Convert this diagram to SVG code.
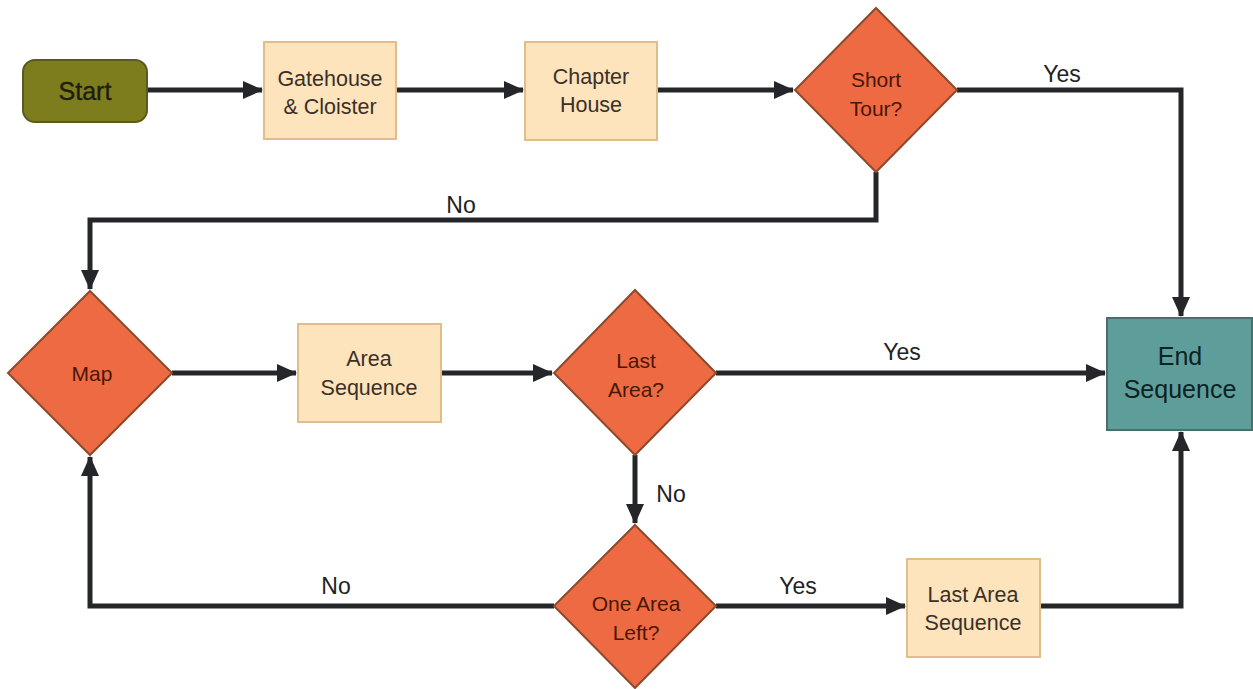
<svg xmlns="http://www.w3.org/2000/svg" width="1253" height="689" viewBox="0 0 1253 689">
<style>
.box{fill:#fde4bd;stroke:#e2bd8a;stroke-width:2}
.dia{fill:#ed6a42;stroke:#8c4a2c;stroke-width:2}
.t{font-family:"Liberation Sans",Arial,sans-serif;font-size:21.5px;text-anchor:middle;fill:#3a3028}
.td{font-family:"Liberation Sans",Arial,sans-serif;font-size:21px;text-anchor:middle;fill:#4a1608}
.lbl{font-family:"Liberation Sans",Arial,sans-serif;font-size:23px;text-anchor:middle;fill:#222}
.c{fill:none;stroke:#24262a;stroke-width:5}
</style>
<defs>
<marker id="ah" markerUnits="userSpaceOnUse" markerWidth="20" markerHeight="18" refX="19" refY="9" orient="auto">
<path d="M0,0 L20,9 L0,18 z" fill="#24262a"/>
</marker>
</defs>
<rect width="1253" height="689" fill="#ffffff"/>
<g id="connectors">
<path class="c" d="M147,90 H262" marker-end="url(#ah)"/>
<path class="c" d="M396,90 H523" marker-end="url(#ah)"/>
<path class="c" d="M657,90 H793" marker-end="url(#ah)"/>
<path class="c" d="M957,90 H1181 V316" marker-end="url(#ah)"/>
<path class="c" d="M876,172 V220 H90 V289" marker-end="url(#ah)"/>
<path class="c" d="M172,373 H296" marker-end="url(#ah)"/>
<path class="c" d="M441,373 H552" marker-end="url(#ah)"/>
<path class="c" d="M716,373 H1105" marker-end="url(#ah)"/>
<path class="c" d="M635,455 V523" marker-end="url(#ah)"/>
<path class="c" d="M554,606 H90 V457" marker-end="url(#ah)"/>
<path class="c" d="M716,606 H905" marker-end="url(#ah)"/>
<path class="c" d="M1040,606 H1181 V432" marker-end="url(#ah)"/>
<text class="lbl" x="1062" y="82">Yes</text>
<text class="lbl" x="461" y="213">No</text>
<text class="lbl" x="902" y="360">Yes</text>
<text class="lbl" x="671" y="502">No</text>
<text class="lbl" x="336" y="594">No</text>
<text class="lbl" x="798" y="594">Yes</text>
</g>
<g id="start">
<rect x="23" y="60" width="124" height="62" rx="12" fill="#7e7d1e" stroke="#5a5a20" stroke-width="2"/>
<text x="85" y="100" font-family="Liberation Sans,Arial,sans-serif" font-size="25" text-anchor="middle" fill="#1e1e10" stroke="#1e1e10" stroke-width="0.4">Start</text>
</g>
<g id="gatehouse">
<rect class="box" x="264" y="42" width="132" height="97"/>
<text class="t" x="330" y="86">Gatehouse</text>
<text class="t" x="330" y="114">&amp; Cloister</text>
</g>
<g id="chapter">
<rect class="box" x="525" y="42" width="132" height="98"/>
<text class="t" x="591" y="84">Chapter</text>
<text class="t" x="591" y="112">House</text>
</g>
<g id="short">
<polygon class="dia" points="876,8 957,90 876,172 795,90"/>
<text class="td" x="876" y="87">Short</text>
<text class="td" x="876" y="116">Tour?</text>
</g>
<g id="end">
<rect x="1107" y="318" width="145" height="112" fill="#5e9e9a" stroke="#4a6e6c" stroke-width="2"/>
<text x="1180" y="365" font-family="Liberation Sans,Arial,sans-serif" font-size="25" text-anchor="middle" fill="#0e2224">End</text>
<text x="1180" y="398" font-family="Liberation Sans,Arial,sans-serif" font-size="25" text-anchor="middle" fill="#0e2224">Sequence</text>
</g>
<g id="map">
<polygon class="dia" points="90,291 172,373 90,455 8,373"/>
<text class="td" x="92" y="381">Map</text>
</g>
<g id="areaseq">
<rect class="box" x="298" y="324" width="143" height="98"/>
<text class="t" x="369" y="366">Area</text>
<text class="t" x="369" y="395">Sequence</text>
</g>
<g id="lastarea">
<polygon class="dia" points="635,290 716,373 635,455 554,373"/>
<text class="td" x="636" y="368">Last</text>
<text class="td" x="636" y="397">Area?</text>
</g>
<g id="onearea">
<polygon class="dia" points="635,525 716,606 635,688 554,606"/>
<text class="td" x="636" y="611">One Area</text>
<text class="td" x="636" y="640">Left?</text>
</g>
<g id="lastareaseq">
<rect class="box" x="907" y="559" width="133" height="98"/>
<text class="t" x="973" y="602">Last Area</text>
<text class="t" x="973" y="630">Sequence</text>
</g>
</svg>
